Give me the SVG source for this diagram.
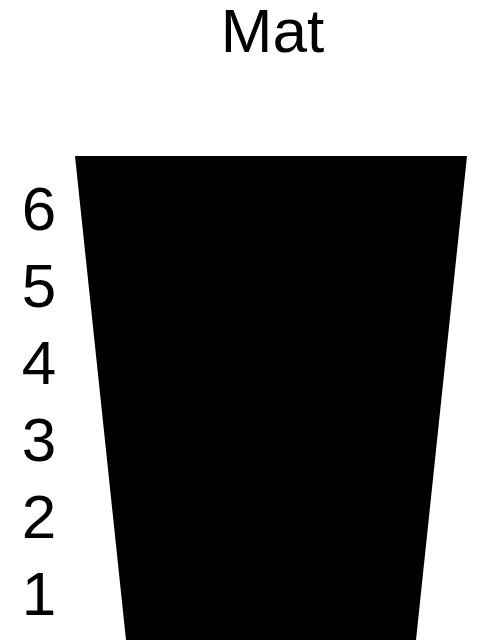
<svg xmlns="http://www.w3.org/2000/svg" width="477" height="640" viewBox="0 0 477 640">
<style>
text{font-family:"Liberation Sans",Arial,sans-serif;fill:#000;text-anchor:middle;font-size:62px}
</style>
<rect width="477" height="640" fill="#fff"/>
<g id="title"><text x="272.5" y="52">Mat</text></g>
<g id="mat"><polygon points="75,156 467,156 416,640 126,640" fill="#000"/></g>
<g id="levels">
<text x="39" y="230">6</text>
<text x="39" y="307">5</text>
<text x="39" y="384">4</text>
<text x="39" y="461">3</text>
<text x="39" y="538">2</text>
<text x="39" y="615">1</text>
</g>
<g id="connectors"/>
</svg>
